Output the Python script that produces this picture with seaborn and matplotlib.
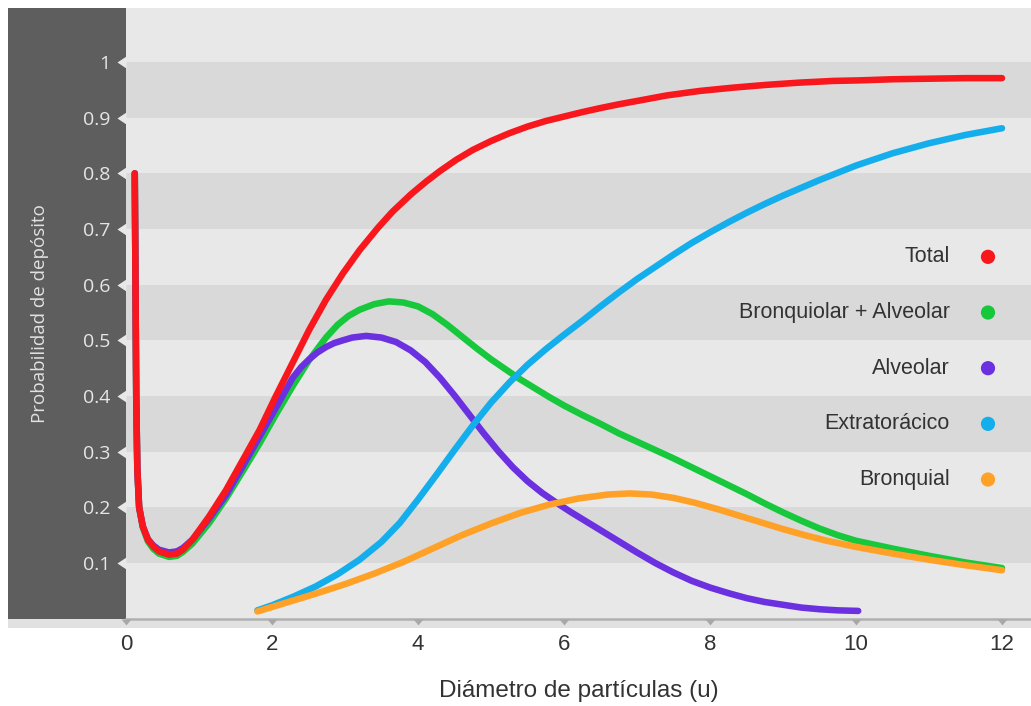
import numpy as np
import pandas as pd
import matplotlib
matplotlib.use("Agg")
import matplotlib.pyplot as plt
from matplotlib.patches import Rectangle
import seaborn as sns

# ---------------- data ----------------
x_total = [0.12, 0.13, 0.14, 0.155, 0.18, 0.23, 0.30, 0.37, 0.45, 0.59, 0.70, 0.78, 0.91,
           1.14, 1.37, 1.60, 1.83, 2.05, 2.28, 2.51, 2.74, 2.97, 3.20, 3.45, 3.65, 3.90,
           4.11, 4.30, 4.52, 4.75, 5.00, 5.25, 5.50, 5.75, 6.00, 6.25, 6.49, 6.75, 7.00,
           7.41, 7.86, 8.32, 8.78, 9.23, 9.69, 10.05, 10.5, 11.0, 11.5, 12.0]
y_total = [0.80, 0.60, 0.40, 0.27, 0.20, 0.166, 0.142, 0.130, 0.121, 0.115, 0.117, 0.124, 0.142,
           0.184, 0.231, 0.285, 0.339, 0.399, 0.459, 0.519, 0.573, 0.620, 0.662, 0.702, 0.731, 0.762,
           0.785, 0.804, 0.824, 0.842, 0.858, 0.872, 0.884, 0.894, 0.902, 0.910, 0.917, 0.924, 0.930,
           0.940, 0.948, 0.954, 0.959, 0.963, 0.966, 0.967, 0.969, 0.970, 0.971, 0.971]

x_ba = [0.12, 0.13, 0.14, 0.155, 0.18, 0.23, 0.30, 0.37, 0.45, 0.59, 0.70, 0.78, 0.91,
        1.14, 1.37, 1.60, 1.83, 2.05, 2.28, 2.51, 2.74, 2.90, 3.05, 3.20, 3.40, 3.60,
        3.80, 4.00, 4.20, 4.40, 4.60, 4.80, 5.00, 5.20, 5.40, 5.60, 5.80, 6.00, 6.25,
        6.50, 6.75, 7.00, 7.25, 7.50, 7.75, 8.00, 8.25, 8.50, 8.75, 9.00, 9.25, 9.50,
        9.75, 10.0, 10.5, 11.0, 11.5, 12.0]
y_ba = [0.80, 0.60, 0.40, 0.27, 0.20, 0.164, 0.139, 0.126, 0.117, 0.111, 0.113, 0.120, 0.135,
        0.172, 0.216, 0.265, 0.315, 0.366, 0.417, 0.465, 0.505, 0.528, 0.544, 0.555, 0.565, 0.570,
        0.568, 0.561, 0.547, 0.528, 0.507, 0.486, 0.466, 0.448, 0.430, 0.414, 0.398, 0.383, 0.366,
        0.350, 0.333, 0.318, 0.303, 0.288, 0.272, 0.256, 0.240, 0.224, 0.207, 0.191, 0.176, 0.162,
        0.150, 0.140, 0.126, 0.113, 0.101, 0.091]

x_alv = [0.12, 0.13, 0.14, 0.155, 0.18, 0.23, 0.30, 0.37, 0.45, 0.59, 0.70, 0.78, 0.91,
         1.14, 1.37, 1.60, 1.83, 2.05, 2.28, 2.40, 2.51, 2.62, 2.74, 2.85, 2.97, 3.10,
         3.29, 3.50, 3.70, 3.90, 4.10, 4.30, 4.50, 4.70, 4.90, 5.10, 5.30, 5.50, 5.70,
         5.90, 6.10, 6.30, 6.50, 6.75, 7.00, 7.25, 7.50, 7.75, 8.00, 8.25, 8.50, 8.75,
         9.00, 9.25, 9.50, 9.75, 10.03]
y_alv = [0.80, 0.60, 0.40, 0.27, 0.20, 0.166, 0.143, 0.132, 0.124, 0.119, 0.121, 0.127, 0.142,
         0.180, 0.222, 0.274, 0.327, 0.378, 0.432, 0.452, 0.466, 0.478, 0.488, 0.495, 0.500, 0.505,
         0.508, 0.505, 0.497, 0.482, 0.461, 0.433, 0.401, 0.367, 0.333, 0.301, 0.272, 0.247, 0.226,
         0.208, 0.191, 0.175, 0.159, 0.139, 0.119, 0.100, 0.083, 0.068, 0.056, 0.046, 0.037, 0.030,
         0.025, 0.020, 0.017, 0.015, 0.014]

x_ext = [1.80, 2.00, 2.30, 2.60, 2.90, 3.20, 3.50, 3.75, 4.00, 4.25, 4.50, 4.75, 5.00,
         5.25, 5.50, 5.75, 6.00, 6.25, 6.50, 6.75, 7.00, 7.25, 7.50, 7.75, 8.00, 8.25,
         8.50, 8.75, 9.00, 9.25, 9.50, 9.75, 10.0, 10.5, 11.0, 11.5, 12.0]
y_ext = [0.015, 0.024, 0.040, 0.058, 0.080, 0.106, 0.138, 0.172, 0.214, 0.258, 0.303, 0.347, 0.388,
         0.424, 0.456, 0.484, 0.510, 0.535, 0.561, 0.586, 0.610, 0.632, 0.654, 0.675, 0.694, 0.712,
         0.729, 0.745, 0.760, 0.774, 0.788, 0.801, 0.814, 0.836, 0.854, 0.869, 0.881]

x_bro = [1.80, 2.20, 2.60, 3.00, 3.40, 3.80, 4.20, 4.60, 5.00, 5.40, 5.80, 6.20, 6.60,
         6.90, 7.20, 7.50, 7.80, 8.10, 8.40, 8.70, 9.00, 9.30, 9.60, 10.0, 10.5, 11.0,
         11.5, 12.0]
y_bro = [0.013, 0.029, 0.045, 0.062, 0.081, 0.102, 0.126, 0.150, 0.171, 0.190, 0.205, 0.216, 0.223,
         0.225, 0.223, 0.217, 0.208, 0.197, 0.185, 0.173, 0.161, 0.150, 0.140, 0.129, 0.117, 0.106,
         0.096, 0.087]

series_names = ["Total", "Bronquiolar + Alveolar", "Alveolar", "Extratorácico", "Bronquial"]
series_colors = ["#f8171c", "#17c83c", "#6b30e0", "#14aeec", "#ffa126"]
x_ticks = [0, 2, 4, 6, 8, 10, 12]
x_tick_labels = ["0", "2", "4", "6", "8", "10", "12"]
y_ticks = [0.1, 0.2, 0.3, 0.4, 0.5, 0.6, 0.7, 0.8, 0.9, 1.0]
y_tick_labels = ["0.1", "0.2", "0.3", "0.4", "0.5", "0.6", "0.7", "0.8", "0.9", "1"]
x_label = "Diámetro de partículas (u)"
y_label = "Probabilidad de depósito"

# ---------------- build long table ----------------
xs = [x_total, x_ba, x_alv, x_ext, x_bro]
ys = [y_total, y_ba, y_alv, y_ext, y_bro]
df = pd.concat([pd.DataFrame({"d": x, "p": y, "serie": n})
                for x, y, n in zip(xs, ys, series_names)], ignore_index=True)

# ---------------- style ----------------
sns.set_style("white")
plt.rcParams["font.family"] = ["Liberation Sans", "DejaVu Sans"]

W, H = 1031, 706
fig = plt.figure(figsize=(W / 100, H / 100), dpi=100)
left_px, right_px, top_px, bottom_px = 126, 1031, 8, 618.7
px_per_x, px_per_y = 73.0, 556.7
ax = fig.add_axes([left_px / W, (H - bottom_px) / H,
                   (right_px - left_px) / W, (bottom_px - top_px) / H])
ax.set_xlim(0, (right_px - left_px) / px_per_x)
ax.set_ylim(0, (bottom_px - top_px) / px_per_y)

ax.set_facecolor("#e8e8e8")
for lo in [0.1, 0.3, 0.5, 0.7, 0.9]:
    ax.axhspan(lo, lo + 0.1, color="#d9d9d9", lw=0, zorder=0)

# dark panel on the left + light strip at the bottom
fig.add_artist(Rectangle((8 / W, (H - 628) / H), (W - 8) / W, (628 - bottom_px) / H,
                         transform=fig.transFigure, color="#e1e1e1", lw=0, zorder=-2))
fig.add_artist(Rectangle((8 / W, (H - bottom_px) / H), (left_px - 8) / W, (bottom_px - 8) / H,
                         transform=fig.transFigure, color="#5e5e5e", lw=0, zorder=-1))

# ---------------- lines ----------------
draw_order = ["Bronquiolar + Alveolar", "Alveolar", "Extratorácico", "Bronquial", "Total"]
palette = dict(zip(series_names, series_colors))
sns.lineplot(data=df, x="d", y="p", hue="serie", hue_order=draw_order, palette=palette,
             estimator=None, errorbar=None, linewidth=4.7, legend=False, ax=ax,
             solid_capstyle="round", solid_joinstyle="round", zorder=4)

# ---------------- axes decoration ----------------
for s in ["left", "top", "right"]:
    ax.spines[s].set_visible(False)
ax.spines["bottom"].set_color("#b0b0b0")
ax.spines["bottom"].set_linewidth(1.8)
ax.grid(False)

ax.set_xticks(x_ticks, x_tick_labels)
ax.tick_params(axis="x", length=0, pad=11, labelsize=16, labelcolor="#333333")
ax.set_yticks(y_ticks, y_tick_labels, fontfamily="Open Sans")
ax.tick_params(axis="y", length=0, pad=11, labelsize=14, labelcolor="#e6e6e6")

# notches at y ticks (pointing left into the dark panel)
ax.plot(np.zeros(len(y_ticks)), y_ticks, linestyle="none",
        marker=[(-1.5, 0), (0, 1), (0, -1), (-1.5, 0)], markersize=13,
        color="#e8e8e8", markeredgewidth=0, clip_on=False, zorder=6)
# small triangles at x ticks (pointing down)
ax.plot(x_ticks, np.zeros(len(x_ticks)), linestyle="none",
        marker=[(-1, 0), (1, 0), (0, -1.2), (-1, 0)], markersize=8.5,
        color="#a8a8a8", markeredgewidth=0, clip_on=False, zorder=6,
        transform=ax.get_xaxis_transform())

ax.set_xlabel(x_label, fontsize=17.5, color="#333333")
ax.xaxis.set_label_coords(0.5, -(691 - bottom_px) / (bottom_px - top_px))
ax.xaxis.label.set_va("center")
ax.set_ylabel(y_label, fontsize=13.5, color="#e2e2e2", fontfamily="Open Sans")
ax.yaxis.set_label_coords(-(left_px - 40) / (right_px - left_px), 0.5)
ax.yaxis.label.set_va("center")

# ---------------- custom legend ----------------
text_x = (950 - left_px) / px_per_x
dot_x = (988 - left_px) / px_per_x
for i, (name, col) in enumerate(zip(series_names, series_colors)):
    yy = 0.65 - 0.1 * i
    ax.text(text_x, yy, name, ha="right", va="center", fontsize=15.5, color="#333333", zorder=7)
    ax.scatter([dot_x], [yy], s=105, color=col, edgecolors="none", zorder=7)

fig.savefig("out.png", dpi=100, facecolor="white")
